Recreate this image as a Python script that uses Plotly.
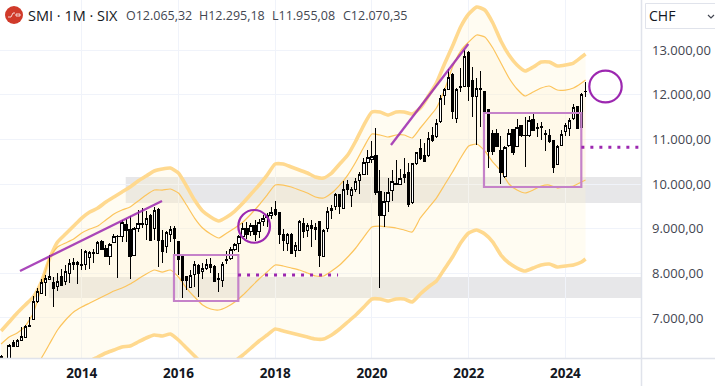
import plotly.graph_objects as go

# Monthly candles, 2012-05 .. 2024-06
opens = [6133,5950,6096,6447,6357,6492,6559,6805,6969,7365,7551,7790,7865,7798,7701,7940,7813,7999,8253,8253,
8178,8193,8350,8447,8447,8708,8559,8387,8686,8820,8820,9104,8992,8410,9007,9104,9096,9298,9007,9432,
8746,8596,8872,9007,8708,8372,7940,7686,7969,8178,8037,8104,8208,8163,7857,7835,8283,8335,8544,8657,
8821,9007,8933,9082,8933,9157,9246,9298,9433,9373,8880,8657,8880,8522,8507,9119,8955,9075,8978,9157,
8373,9000,9403,9493,9769,9455,9978,9739,9866,10075,10216,10478,10552,10642,9843,9284,9612,9851,10000,9993,
10224,10254,9582,10463,10799,10649,10649,11097,11060,11396,11978,12127,12463,11470,12164,12179,12941,12314,11955,12142,
12067,11672,11134,11120,10761,10164,10866,11224,10836,11299,11075,11090,11448,11254,11276,11134,11090,10963,10440,10866,
11179,11246,11463,11732,11269,12065.32]
highs = [6170,6090,6417,6507,6522,6790,6842,7029,7492,7663,7865,7962,8410,7910,8014,8089,8186,8313,8335,8283,
8537,8522,8499,8537,8731,8746,8634,8686,8872,8850,9193,9208,9283,9044,9417,9455,9402,9328,9492,9455,
8969,8955,9059,9059,8720,8380,7950,8074,8283,8208,8238,8313,8335,8186,7999,8260,8507,8596,8686,8858,
9119,9149,9119,9194,9209,9306,9343,9478,9619,9380,9000,8910,8895,8709,9194,9231,9134,9194,9119,9179,
8985,9493,9530,9791,9780,10075,10090,9925,10127,10276,10575,10761,10970,11254,10313,9828,10127,10313,10537,10328,
10575,10463,10478,10724,11000,10925,11172,11284,11448,11993,12142,12567,12493,12142,12605,13000,12985,12627,12366,12537,
12080,11680,11209,11231,11075,10851,11239,11239,11448,11321,11508,11523,11597,11373,11396,11209,11224,10985,10873,11209,
11358,11470,11791,11746,12030,12295.18]
lows = [6096,5900,6059,6357,6342,6480,6544,6805,6960,7328,7537,7492,7850,7253,7604,7716,7738,7790,8074,7760,
8074,8074,8104,8238,8432,8522,8380,8186,8680,7887,8708,8708,7865,8387,8932,9007,8746,8731,8746,8149,
8238,8447,8708,8387,7962,7439,7626,7663,7686,7477,7865,8074,7999,7813,7589,7701,8208,8298,8507,8485,
8761,8761,8836,8731,8783,9060,9045,9209,9283,8657,8507,8507,8433,8373,8500,8783,8806,8597,8746,8149,
8365,8925,9209,9418,9328,9440,9754,9478,9828,9776,10201,10201,10463,9746,7664,9045,9381,9627,9978,9978,
10015,9493,9552,10425,10537,10485,10612,10948,11022,11373,11769,12105,11448,11373,12067,12164,11866,11493,10873,11284,
11224,10351,10649,10821,10000,10127,10821,10649,10830,11060,10388,11060,11179,11045,10985,10746,10925,10254,10425,10851,
11075,11075,11433,11224,11194,11955.08]
closes = [6096,6050,6395,6372,6492,6596,6820,6827,7380,7604,7790,7887,7940,7663,7828,7723,8037,8223,8208,8193,
8193,8484,8462,8469,8686,8537,8387,8656,8835,8835,9141,8955,8372,9007,9119,9119,9231,8746,9417,8746,
8484,8917,8984,8783,8313,7850,7835,7955,8193,7999,8111,8208,8126,7820,7880,8193,8305,8537,8649,8821,
9007,8880,9060,8880,9149,9231,9298,9373,9313,8880,8731,8880,8448,8612,9157,8933,9082,9000,9030,8410,
8970,9388,9455,9754,9507,9881,9881,9866,10052,10216,10485,10597,10612,9806,9284,9619,9813,10052,10015,10127,
10149,9552,10463,10702,10560,10500,11022,10985,11358,11918,12105,12388,11620,12105,12179,12866,12194,11955,12142,12120,
11620,10724,10724,10836,10254,10821,11120,10702,11269,11075,11090,11418,11194,11269,11291,11105,10948,10366,10851,11112,
11314,11433,11717,11239,11993,12070.35]

# Envelope bands, read every second month plus the last one
band_outer_upper = [6708,6910,7111,7291,7470,7806,8320,8701,8880,9059,9238,9373,9462,9597,9709,9821,9933,10067,10179,10291,
10336,10358,10246,9955,9641,9395,9261,9171,9261,9395,9574,9776,9977,10201,10448,10448,10380,10313,10246,10156,
10134,10246,10448,10649,10963,11321,11612,11612,11545,11612,11612,11567,11701,11970,12261,12687,13090,13515,13806,13963,
13896,13605,13202,12888,12664,12530,12619,12731,12731,12642,12664,12709,12843,12910]
band_inner_upper = [6417,6574,6664,6820,7111,7694,8343,8589,8679,8768,8903,8992,9059,9194,9328,9418,9485,9619,9753,9865,
9865,9888,9798,9530,9238,9015,8880,8791,8903,9015,9149,9328,9530,9753,9977,9977,9933,9865,9798,9709,
9686,9798,9977,10201,10492,10828,11119,11097,11052,11097,11097,11030,11254,11477,11701,12104,12619,12978,13179,13336,
13291,13045,12709,12373,12127,11970,12060,12149,12194,12104,12104,12149,12261,12328]
band_inner_lower = [5275,5432,5567,5678,5880,6104,6417,6731,6955,7134,7246,7335,7425,7514,7604,7671,7761,7873,7985,8074,
8029,8074,7917,7671,7470,7291,7201,7179,7246,7358,7514,7694,7873,8029,8186,8164,8119,8074,8007,7940,
7940,8052,8186,8365,8567,8813,9037,9059,9037,9015,8970,8925,9238,9462,9686,9977,10268,10582,10851,10895,
10739,10492,10291,10000,9865,9798,9865,9955,9977,9910,9933,9955,10045,10089]
band_outer_lower = [3372,3596,3820,4044,4268,4604,4940,5275,5544,5790,5925,6037,6126,6216,6283,6350,6373,6462,6552,6619,
6596,6641,6507,6328,6149,5970,5858,5813,5925,6037,6171,6328,6485,6619,6753,6708,6664,6619,6574,6529,
6529,6619,6753,6910,7067,7246,7425,7425,7380,7425,7425,7358,7537,7694,7828,8097,8365,8679,8903,8970,
8880,8701,8410,8231,8119,8052,8119,8186,8209,8141,8164,8186,8253,8320]

x_range = [2012.311, 2025.563]
y_range = [6104, 14120]
year_ticks = [2014, 2016, 2018, 2020, 2022, 2024]
price_ticks = [7000, 8000, 9000, 10000, 11000, 12000, 13000]
price_labels = ["7.000,00", "8.000,00", "9.000,00", "10.000,00", "11.000,00", "12.000,00", "13.000,00"]

PURPLE = "#9c27b0"
BOX = "#c582c9"
ZONE = "rgba(120,123,134,0.18)"
GRID = "#f0f3fa"
AXIS = "#e0e3eb"
TEXT = "#434651"
FONT = "Open Sans"

zones = [(2014.91, 9574, 10156), (2013.32, 7447, 7917)]
boxes = [(2015.908, 7380, 2017.238, 8410), (2022.317, 9933, 2024.329, 11590)]
circles = [(2017.238, 8685, 2017.893, 9418), (2024.494, 11829, 2025.164, 12537)]
trends = [(2012.724, 8052, 2015.66, 9619), (2020.394, 10873, 2021.993, 13134)]
dotted = [(2017.232, 7962, 2019.30, 7962), (2024.33, 10821, 2025.54, 10821)]

n = len(opens)
assert n == len(highs) == len(lows) == len(closes) == 146
month_x = [2012 + (4 + i) / 12 for i in range(n)]
band_x = month_x[::2] + [month_x[-1]]
assert len(band_x) == len(band_outer_upper) == len(band_inner_upper) == len(band_inner_lower) == len(band_outer_lower)

THICK = dict(color="#ffd98f", width=3.6, shape="spline", smoothing=0.5)
THIN = dict(color="#fcc45c", width=1.2, shape="spline", smoothing=0.5)
OUTER_FILL = "rgba(255,243,205,0.25)"
INNER_FILL = "rgba(255,240,200,0.4)"

fig = go.Figure()
fig.add_trace(go.Scatter(x=band_x, y=band_outer_upper, mode="lines", line=THICK, hoverinfo="skip"))
fig.add_trace(go.Scatter(x=band_x, y=band_inner_upper, mode="lines", line=THIN, fill="tonexty", fillcolor=OUTER_FILL, hoverinfo="skip"))
fig.add_trace(go.Scatter(x=band_x, y=band_inner_lower, mode="lines", line=THIN, fill="tonexty", fillcolor=INNER_FILL, hoverinfo="skip"))
fig.add_trace(go.Scatter(x=band_x, y=band_outer_lower, mode="lines", line=THICK, fill="tonexty", fillcolor=OUTER_FILL, hoverinfo="skip"))
# Candles sit on an overlaying axis, so that they are drawn over the band fills
fig.add_trace(go.Candlestick(
    x=month_x, open=opens, high=highs, low=lows, close=closes, yaxis="y2",
    increasing=dict(line=dict(color="#000000", width=1), fillcolor="#ffffff"),
    decreasing=dict(line=dict(color="#000000", width=1), fillcolor="#000000"),
    whiskerwidth=0,
))

shapes = []
for x0, lo, hi in zones:
    shapes.append(dict(type="rect", x0=x0, x1=x_range[1], y0=lo, y1=hi, fillcolor=ZONE, line_width=0, layer="below"))
for x0, y0, x1, y1 in trends:
    shapes.append(dict(type="line", x0=x0, x1=x1, y0=y0, y1=y1, line=dict(color=PURPLE, width=2.3), opacity=0.85))
for x0, y0, x1, y1 in boxes:
    shapes.append(dict(type="rect", x0=x0, x1=x1, y0=y0, y1=y1, line=dict(color=BOX, width=2.2)))
for x0, y0, x1, y1 in circles:
    shapes.append(dict(type="circle", x0=x0, x1=x1, y0=y0, y1=y1, line=dict(color=PURPLE, width=2.2)))
for x0, y0, x1, y1 in dotted:
    shapes.append(dict(type="line", x0=x0, x1=x1, y0=y0, y1=y1, line=dict(color=PURPLE, width=3, dash="3px,6px")))

# Chrome round the plot: price scale separator, logo, currency selector (pixels via paper fractions)
W, H = 641.0, 358.0
px = lambda v: v / W
py = lambda v: 1 - v / H
shapes.append(dict(type="line", xref="paper", yref="paper", x0=px(641.5), x1=px(641.5), y0=py(386), y1=py(0), line=dict(color=AXIS, width=1.5)))
shapes.append(dict(type="line", xref="paper", yref="paper", x0=0, x1=px(715), y0=py(358.5), y1=py(358.5), line=dict(color=AXIS, width=1.5)))
shapes.append(dict(type="circle", xref="paper", yref="paper", x0=px(5), x1=px(23), y0=py(6), y1=py(24), fillcolor="#d03a2a", line_width=0))
shapes.append(dict(type="path", xref="paper", yref="paper",
                   path=f"M {px(8)} {py(17)} L {px(11)} {py(17)} L {px(13)} {py(13)} L {px(15)} {py(13)} M {px(16)} {py(14)} L {px(20)} {py(14)} L {px(20)} {py(16)} L {px(16)} {py(16)} Z",
                   line=dict(color="#ffffff", width=0.8)))
shapes.append(dict(type="rect", xref="paper", yref="paper", x0=px(645.5), x1=px(720), y0=py(3.5), y1=py(28.5), line=dict(color=AXIS, width=1), fillcolor="#ffffff"))
shapes.append(dict(type="path", xref="paper", yref="paper",
                   path=f"M {px(708)} {py(15)} L {px(711)} {py(18)} L {px(714)} {py(15)}",
                   line=dict(color=TEXT, width=1.2)))


def note(x, y, text, size, color=TEXT):
    return dict(xref="paper", yref="paper", x=px(x), y=py(y), text=text, showarrow=False,
                xanchor="left", yanchor="middle", font=dict(family=FONT, size=size, color=color))


annotations = [
    note(26, 15, "SMI · 1M · SIX", 14.5, "#131722"),
    note(124, 15, "O12.065,32", 12.5),
    note(197, 15, "H12.295,18", 12.5),
    note(270, 15, "L11.955,08", 12.5),
    note(341, 15, "C12.070,35", 12.5),
    note(647, 16, "CHF", 14, "#131722"),
]

fig.update_layout(
    width=715, height=386,
    margin=dict(l=0, r=74, t=0, b=28),
    paper_bgcolor="#ffffff", plot_bgcolor="#ffffff",
    showlegend=False, boxgap=0.42, boxgroupgap=0,
    shapes=shapes, annotations=annotations,
    xaxis=dict(range=x_range, type="linear", rangeslider=dict(visible=False),
               tickmode="array", tickvals=year_ticks, ticktext=[str(y) for y in year_ticks],
               showgrid=True, gridcolor=GRID, gridwidth=1, zeroline=False, showline=False, ticks="",
               ticklabelstandoff=5,
               tickfont=dict(family=FONT, size=13.5, color="#131722", weight="bold")),
    yaxis=dict(range=y_range, side="right", tickmode="array", tickvals=price_ticks, ticktext=price_labels,
               showgrid=True, gridcolor=GRID, gridwidth=1, zeroline=False, showline=False, ticks="",
               ticklabelstandoff=10,
               tickfont=dict(family=FONT, size=13, color=TEXT)),
    yaxis2=dict(range=y_range, overlaying="y", side="right", visible=False, showgrid=False, zeroline=False),
)
fig.write_html(
    "out.html",
    config={"displayModeBar": False},
    post_script="document.body.style.margin='0';document.documentElement.style.overflow='hidden';"
                "document.querySelectorAll('.boxes path').forEach(function(p){p.style.shapeRendering='crispEdges';});",
)
